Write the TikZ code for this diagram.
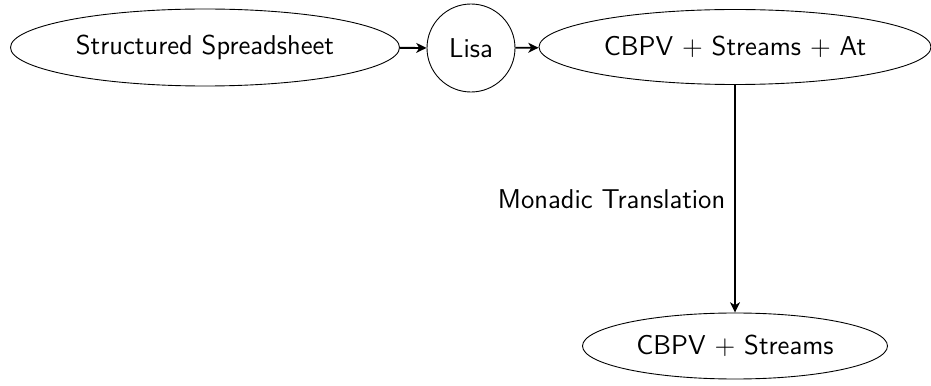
\documentclass[tikz,border=0pt]{standalone}
\usetikzlibrary{shapes.geometric,arrows.meta}
\begin{document}
\begin{tikzpicture}[x=0.448pt,y=-0.448pt,
  every node/.style={font=\sffamily\fontsize{12.2}{14.5}\selectfont},
  ell/.style={draw, ellipse, inner sep=0pt},
  conn/.style={-{Stealth[length=4.6pt, width=4.4pt, inset=1.3pt]}, thick}]
\useasboundingbox (0,0) rectangle (931,386);
\node[ell, minimum width=389*0.448pt, minimum height=77*0.448pt] (ss) at (205,47.5) {Structured Spreadsheet};
\node[draw, circle, minimum size=88*0.448pt, inner sep=0pt] (lisa) at (471,48) {Lisa};
\node[ell, minimum width=392*0.448pt, minimum height=75*0.448pt] (cbat) at (735,47) {CBPV + Streams + At};
\node[ell, minimum width=305*0.448pt, minimum height=66*0.448pt] (cbs) at (735,346) {CBPV + Streams};
\draw[conn] (ss) -- (lisa);
\draw[conn] (lisa) -- (cbat);
\draw[conn] (cbat) -- node[left, inner sep=4pt] (lbl) {Monadic Translation} (cbs);
\end{tikzpicture}
\end{document}
